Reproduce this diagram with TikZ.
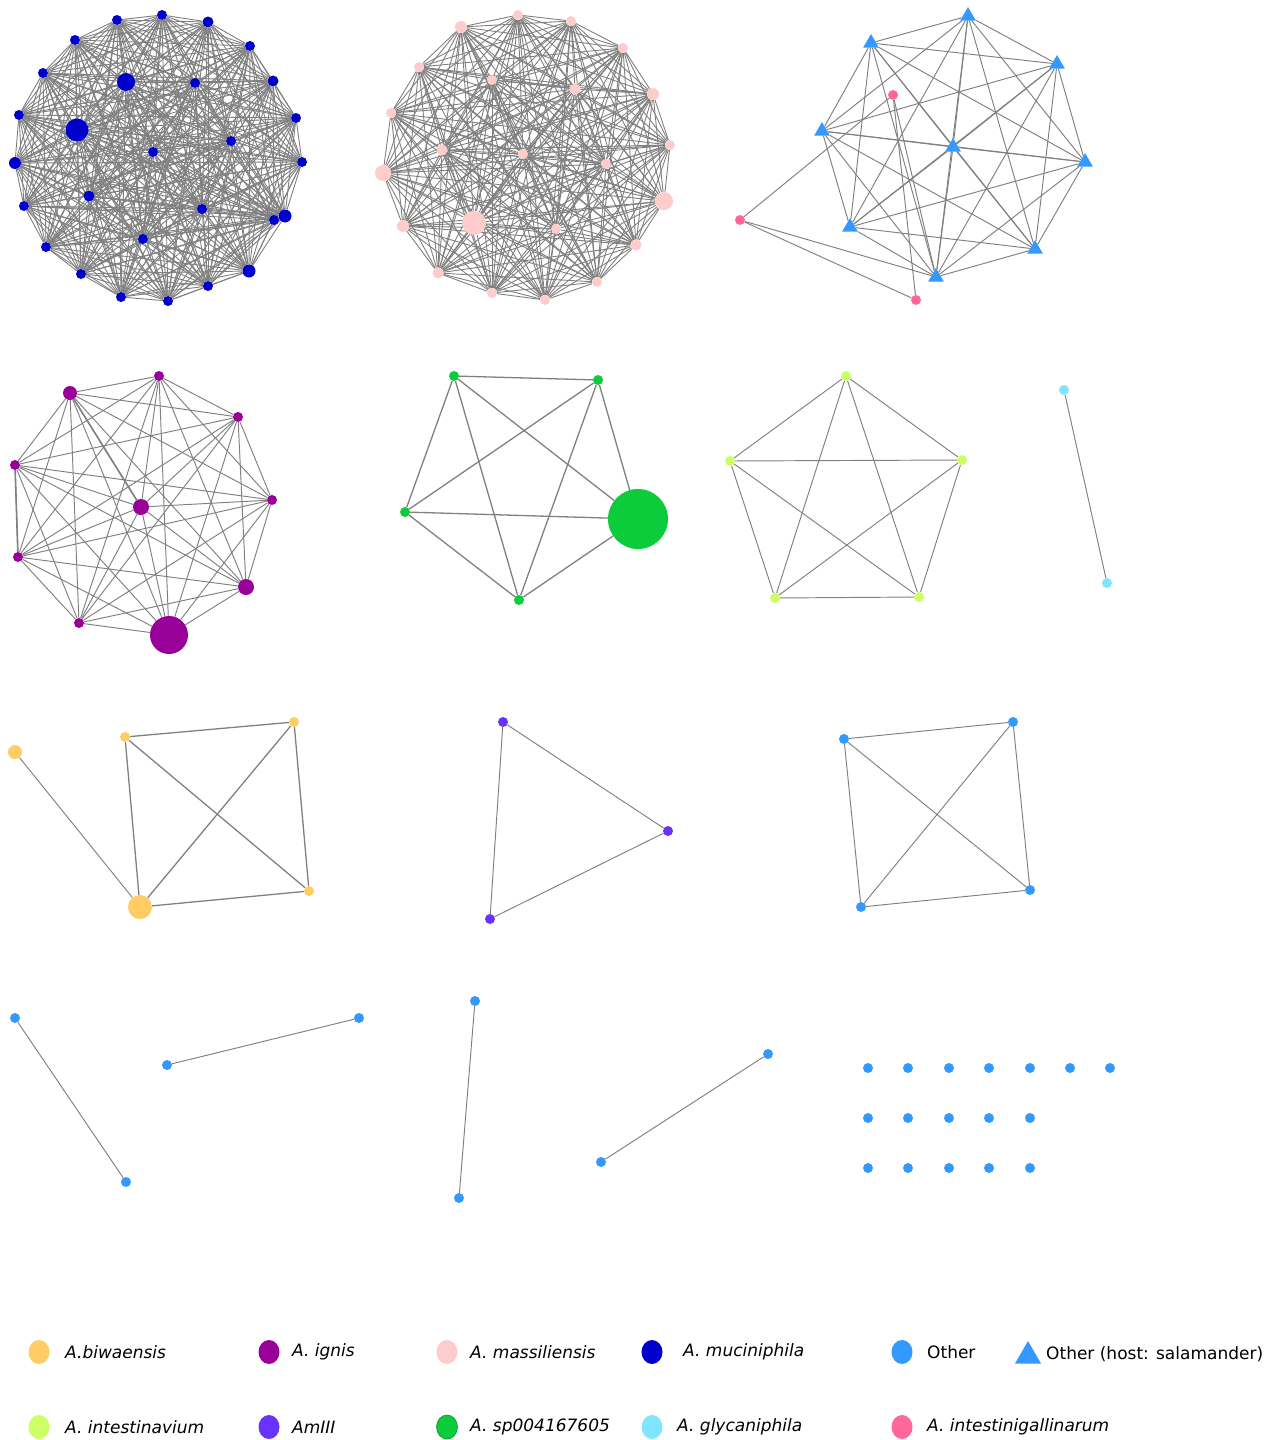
\documentclass[tikz,border=0pt]{standalone}
\usepackage{fontspec}
\setmainfont{DejaVu Sans}
\usetikzlibrary{shapes.geometric}
\pgfdeclarelayer{bg}\pgfsetlayers{bg,main}
\definecolor{cMuc}{RGB}{0,0,204}
\definecolor{cMas}{RGB}{255,204,204}
\definecolor{cOth}{RGB}{51,153,255}
\definecolor{cGal}{RGB}{255,102,153}
\definecolor{cIgn}{RGB}{153,0,153}
\definecolor{cSp}{RGB}{12,204,60}
\definecolor{cInt}{RGB}{204,255,102}
\definecolor{cGly}{RGB}{128,229,255}
\definecolor{cAm}{RGB}{102,51,255}
\definecolor{cBiw}{RGB}{255,204,102}
\definecolor{edgegray}{RGB}{128,128,128}
\newcommand\mycomplete[3][]{%
  \foreach \i in {1,...,#3}{\foreach \k in {1,...,#3}{\ifnum\i<\k \draw[edge,#1] (#2\i) -- (#2\k);\fi}}}
\begin{document}
\begin{tikzpicture}[x=1pt,y=-1pt,
  dot/.style={circle,inner sep=0pt,draw=none},
  tri/.style={regular polygon,regular polygon sides=3,inner sep=0pt,draw=none,fill=cOth,minimum size=18},
  edge/.style={draw=edgegray,line width=0.95pt},
  leg/.style={ellipse,inner sep=0pt,draw=none,minimum width=21,minimum height=24},
  legtext/.style={anchor=west,font=\fontsize{17}{20}\selectfont\itshape,inner sep=0pt},
  legtextup/.style={anchor=west,font=\fontsize{17}{20}\selectfont,inner sep=0pt}]
\useasboundingbox (0,0) rectangle (1279,1440);
% ---------- A. muciniphila cluster
\foreach [count=\n] \x/\y/\d in {117/20/10,162/15/10,208/22/11,250/46/10,75/40/10,43/73/10,126/82/18,195/83/10,273/81/11,19/115/10,77/130/23,296/118/10,231/141/10,153/152/10,15/163/12,302/162/10,89/196/11,24/206/10,202/209/10,285/216/13,274/220/10,143/239/10,46/247/10,249/271/13,81/274/10,208/286/10,121/297/10,168/301/10}
  \node[dot,fill=cMuc,minimum size=\d] (b\n) at (\x,\y) {};
% ---------- A. massiliensis cluster
\foreach [count=\n] \x/\y/\d in {518/15/10,571/21/10,461/27/12,623/48/10,419/67/10,492/80/10,575/89/11,653/94/12,391/113/10,670/145/10,442/150/11,523/154/10,606/164/10,383/173/16,664/201/18,474/223/24,403/226/12,556/229/10,636/245/11,438/273/11,597/282/10,492/293/10,545/300/10}
  \node[dot,fill=cMas,minimum size=\d] (m\n) at (\x,\y) {};
% ---------- salamander cluster
\foreach [count=\n] \x/\y in {968/16,871/43,1057/64,822/131,953/147,1085/162,850/227,1035/249,936/277}
  \node[tri] (s\n) at (\x,\y) {};
\node[dot,fill=cGal,minimum size=10] (p1) at (893,95) {};
\node[dot,fill=cGal,minimum size=10] (p2) at (740,220) {};
\node[dot,fill=cGal,minimum size=10] (p3) at (916,300) {};
% ---------- A. ignis cluster
\foreach [count=\n] \x/\y/\d in {159/376/10,70/393/14,238/417/10,15/465/10,272/500/10,141/507/16,18/557/10,246/587/16,79/623/10,169/635/38}
  \node[dot,fill=cIgn,minimum size=\d] (g\n) at (\x,\y) {};
% ---------- A. sp004167605
\foreach [count=\n] \x/\y/\d in {454/376/10,598/380/10,405/512/10,638/519/60,519/600/10}
  \node[dot,fill=cSp,minimum size=\d] (q\n) at (\x,\y) {};
% ---------- A. intestinavium
\foreach [count=\n] \x/\y in {846/376,730/461,962/460,775/598,919/597}
  \node[dot,fill=cInt,minimum size=10] (v\n) at (\x,\y) {};
% ---------- A. glycaniphila
\node[dot,fill=cGly,minimum size=10] (y1) at (1064,390) {};
\node[dot,fill=cGly,minimum size=10] (y2) at (1107,583) {};
% ---------- A. biwaensis
\node[dot,fill=cBiw,minimum size=14] (o1) at (15,752) {};
\node[dot,fill=cBiw,minimum size=10] (o2) at (125,737) {};
\node[dot,fill=cBiw,minimum size=10] (o3) at (294,722) {};
\node[dot,fill=cBiw,minimum size=10] (o4) at (309,891) {};
\node[dot,fill=cBiw,minimum size=24] (o5) at (140,907) {};
% ---------- AmIII
\node[dot,fill=cAm,minimum size=10] (a1) at (503,722) {};
\node[dot,fill=cAm,minimum size=10] (a2) at (668,831) {};
\node[dot,fill=cAm,minimum size=10] (a3) at (490,919) {};
% ---------- Other K4
\foreach [count=\n] \x/\y in {844/739,1013/722,1030/890,861/907}
  \node[dot,fill=cOth,minimum size=10] (k\n) at (\x,\y) {};
% ---------- Other pairs
\foreach [count=\n] \x/\y in {15/1018,126/1182,167/1065,359/1018,475/1001,459/1198,768/1054,601/1162}
  \node[dot,fill=cOth,minimum size=10] (r\n) at (\x,\y) {};
% ---------- Other isolated
\foreach [count=\n] \x in {868,908,949,989,1030,1070,1110}
  \node[dot,fill=cOth,minimum size=10] (ia\n) at (\x,1068) {};
\foreach [count=\n] \x in {868,908,949,989,1030}{
  \node[dot,fill=cOth,minimum size=10] (ib\n) at (\x,1118) {};
  \node[dot,fill=cOth,minimum size=10] (ic\n) at (\x,1168) {};}
% ---------- edges
\begin{pgfonlayer}{bg}
\mycomplete[line width=0.9pt]{b}{28}
\mycomplete[line width=0.9pt]{m}{23}
\mycomplete{s}{9}
\draw[edge] (p1) -- (p2); \draw[edge] (p1) -- (p3); \draw[edge] (p2) -- (p3);
\draw[edge] (p1) -- (s9); \draw[edge] (p2) -- (s9);
\mycomplete{g}{10}
\draw[edge,line width=1.6pt] (g4) -- (g7);
\draw[edge,line width=1.6pt] (g2) -- (g6);
\mycomplete[line width=1.3pt]{q}{5}
\mycomplete{v}{5}
\draw[edge] (y1) -- (y2);
\draw[edge] (o1) -- (o5);
\foreach \u/\w in {2/3,2/4,2/5,3/4,3/5,4/5} \draw[edge,line width=1.3pt] (o\u) -- (o\w);
\draw[edge] (a1) -- (a2); \draw[edge] (a2) -- (a3); \draw[edge] (a1) -- (a3);
\mycomplete{k}{4}
\draw[edge] (r1) -- (r2); \draw[edge] (r3) -- (r4); \draw[edge] (r5) -- (r6); \draw[edge] (r7) -- (r8);
\end{pgfonlayer}
% ---------- legend
\node[leg,fill=cBiw] (l1) at (39,1352) {};
\node[legtext] (lt1) at (65,1352) {A.biwaensis};
\node[leg,fill=cIgn] (l2) at (269,1352) {};
\node[legtext] (lt2) at (292,1352) {A. ignis};
\node[leg,fill=cMas] (l3) at (447,1352) {};
\node[legtext] (lt3) at (470,1352) {A. massiliensis};
\node[leg,fill=cMuc] (l4) at (652,1352) {};
\node[legtext] (lt4) at (683,1352) {A. muciniphila};
\node[leg,fill=cOth] (l5) at (902,1352) {};
\node[legtextup] (lt5) at (927,1352) {Other};
\node[regular polygon,regular polygon sides=3,inner sep=0pt,fill=cOth,minimum size=30] (l6) at (1028,1356) {};
\node[legtextup] (lt6) at (1046,1354) {Other (host: salamander)};
\node[leg,fill=cInt] (l7) at (39,1427) {};
\node[legtext] (lt7) at (65,1427) {A. intestinavium};
\node[leg,fill=cAm] (l8) at (269,1427) {};
\node[legtext] (lt8) at (292,1427) {AmIII};
\node[leg,fill=cSp,draw=cSp!70!black,line width=0.6pt] (l9) at (447,1427) {};
\node[legtext] (lt9) at (470,1427) {A. sp004167605};
\node[leg,fill=cGly] (l10) at (652,1427) {};
\node[legtext] (lt10) at (677,1427) {A. glycaniphila};
\node[leg,fill=cGal] (l11) at (902,1427) {};
\node[legtext] (lt11) at (927,1427) {A. intestinigallinarum};
\end{tikzpicture}
\end{document}
